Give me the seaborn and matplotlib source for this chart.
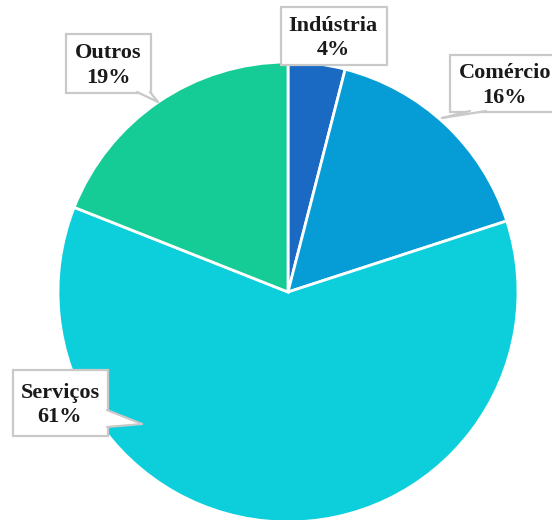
import matplotlib
matplotlib.use("Agg")
import matplotlib.pyplot as plt
import seaborn as sns
from matplotlib.patches import Rectangle, Polygon
from matplotlib.lines import Line2D

sns.set_theme(style="white")
plt.rcParams["font.family"] = ["Liberation Serif", "DejaVu Serif"]

# Sector shares (%)
sectors = ["Indústria", "Comércio", "Serviços", "Outros"]
shares = [4, 16, 61, 19]
colors = ["#1a6ac4", "#069dd6", "#0dcfdc", "#15cc96"]

W, H = 552, 520
fig = plt.figure(figsize=(W / 100, H / 100), dpi=100)
ax = fig.add_axes([0, 0, 1, 1])

# pie centre and radius in pixels (from top-left)
cx, cy, r = 288, 292, 230
ax.pie(shares, colors=colors, startangle=90, counterclock=False,
       wedgeprops=dict(edgecolor="white", linewidth=2))
ax.set_xlim(-cx / r, (W - cx) / r)
ax.set_ylim(-(H - cy) / r, cy / r)
ax.set_aspect("equal")
ax.axis("off")

tr = ax.transAxes


def p(x, y):
    return (x / W, 1 - y / H)


# callout boxes: (left, top, right, bottom), text centre x, pointer (base1, base2, tip)
callouts = {
    "Indústria": ((281, 7, 387, 65), 333, None),
    "Comércio": ((450, 55, 570, 112), 505, ((470, 111), (486, 111), (442, 118))),
    "Outros": ((66, 34, 151, 93), 108, ((137, 92), (150, 92), (158, 102))),
    "Serviços": ((13, 370, 108, 436), 60, ((107, 410), (107, 427), (142, 424))),
}

edge = "#c9c9c9"
for name, share in zip(sectors, shares):
    (l, t, rr, b), txc, ptr = callouts[name]
    x0, y0 = p(l, b)
    x1, y1 = p(rr, t)
    ax.add_patch(Rectangle((x0, y0), x1 - x0, y1 - y0, transform=tr,
                           facecolor="white", edgecolor=edge, linewidth=1.6,
                           zorder=5, clip_on=False))
    if ptr is not None:
        b1, b2, tip = ptr
        # interior fill so the pointer merges with the box
        if b1[1] == b2[1]:
            i1, i2 = (b1[0], b1[1] - 2), (b2[0], b2[1] - 2)
        else:
            i1, i2 = (b1[0] - 2, b1[1]), (b2[0] - 2, b2[1])
        ax.add_patch(Polygon([p(*i1), p(*b1), p(*tip), p(*b2), p(*i2)],
                             closed=True, transform=tr, facecolor="white",
                             edgecolor="none", zorder=6))
        for a in (b1, b2):
            pa, pt = p(*a), p(*tip)
            ax.add_line(Line2D([pa[0], pt[0]], [pa[1], pt[1]], transform=tr,
                               color=edge, linewidth=1.6, zorder=6))
    tx, ty = p(txc, (t + b) / 2 + 2)
    ax.text(tx, ty, f"{name}\n{share}%", transform=tr, ha="center",
            va="center", fontsize=16, fontweight="bold", color="#1a1a1a",
            linespacing=1.32, zorder=7)

fig.savefig("out.png", dpi=100)
